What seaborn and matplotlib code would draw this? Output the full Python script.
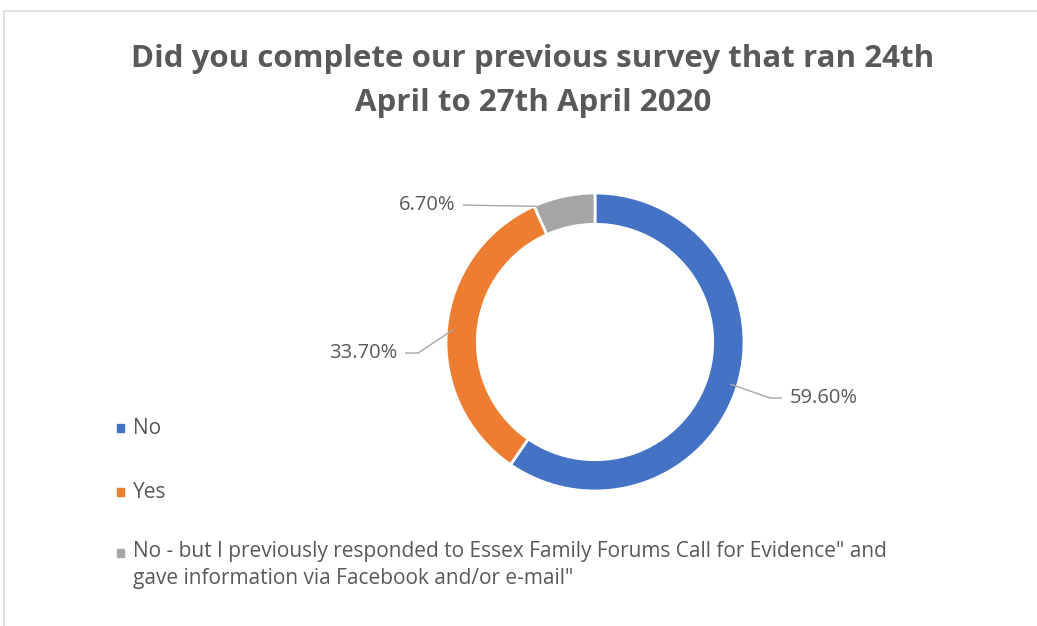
import numpy as np
import matplotlib
matplotlib.use("Agg")
import matplotlib.pyplot as plt
import seaborn as sns
from matplotlib.patches import Rectangle

categories = ["No", "Yes",
              "No - but I previously responded to Essex Family Forums Call for Evidence\" and\ngave information via Facebook and/or e-mail\""]
values = [59.6, 33.7, 6.7]
value_labels = ["59.60%", "33.70%", "6.70%"]
colors = ["#4472C4", "#ED7D31", "#A5A5A5"]
title = "Did you complete our previous survey that ran 24th\nApril to 27th April 2020"

sns.set_theme(style="white")
plt.rcParams['font.family'] = ['Open Sans', 'DejaVu Sans']
text_color = "#595959"

fig = plt.figure(figsize=(10.37, 6.26), dpi=100)
W, H = 1037, 626
# chart border
fig.add_artist(Rectangle((4 / W, -0.1), 1.2, 1.1 - 11 / H, transform=fig.transFigure,
                         fill=False, edgecolor="#D9D9D9", linewidth=1.2))

cx, cy, R = 595, 342, 149
half = 200
ax = fig.add_axes([(cx - half) / W, (H - cy - half) / H, 2 * half / W, 2 * half / H])
lim = half / R
wedges, _ = ax.pie(values, colors=colors, startangle=90, counterclock=False,
                   radius=1.0, wedgeprops=dict(width=0.21, edgecolor="white", linewidth=2))
ax.set_xlim(-lim, lim)
ax.set_ylim(-lim, lim)
ax.set_aspect("equal")
ax.axis("off")

# label layout: text anchor (data units), alignment, horizontal elbow length
text_pos = [(1.309, -0.376, "left", 0.08), (-1.329, -0.074, "right", 0.087), (-0.94, 0.919, "right", 0.0)]
for i, w in enumerate(wedges):
    if i == 2:
        ang = np.deg2rad(w.theta2 - 1.0)
        r = 0.99
    else:
        ang = np.deg2rad((w.theta1 + w.theta2) / 2)
        r = 0.95
    x0, y0 = r * np.cos(ang), r * np.sin(ang)
    tx, ty, ha, el = text_pos[i]
    sgn = -1 if ha == "left" else 1
    x_end = tx + sgn * 0.054
    x_elb = x_end + sgn * el
    ax.plot([x0, x_elb, x_end], [y0, ty, ty], color="#A6A6A6", lw=1, solid_capstyle="butt")
    ax.text(tx, ty, value_labels[i], ha=ha, va="center", fontsize=14.5, color=text_color)

fig.text(533 / W, 1 - 81 / H, title, ha="center", va="center", fontsize=22.5,
         fontweight="bold", color=text_color, linespacing=1.6)

# legend
leg_y = [428, 492, 553]
for i, c in enumerate(categories):
    y = leg_y[i]
    fig.add_artist(Rectangle((117 / W, 1 - (y + 4) / H), 7 / W, 8 / H,
                             transform=fig.transFigure, color=colors[i]))
    if i == 2:
        fig.text(133 / W, 1 - (y - 12) / H, c, ha="left", va="top",
                 fontsize=15, color=text_color, linespacing=1.4)
    else:
        fig.text(133 / W, 1 - y / H, c, ha="left", va="center",
                 fontsize=15, color=text_color)

fig.savefig("out.png", dpi=100, facecolor="white")
